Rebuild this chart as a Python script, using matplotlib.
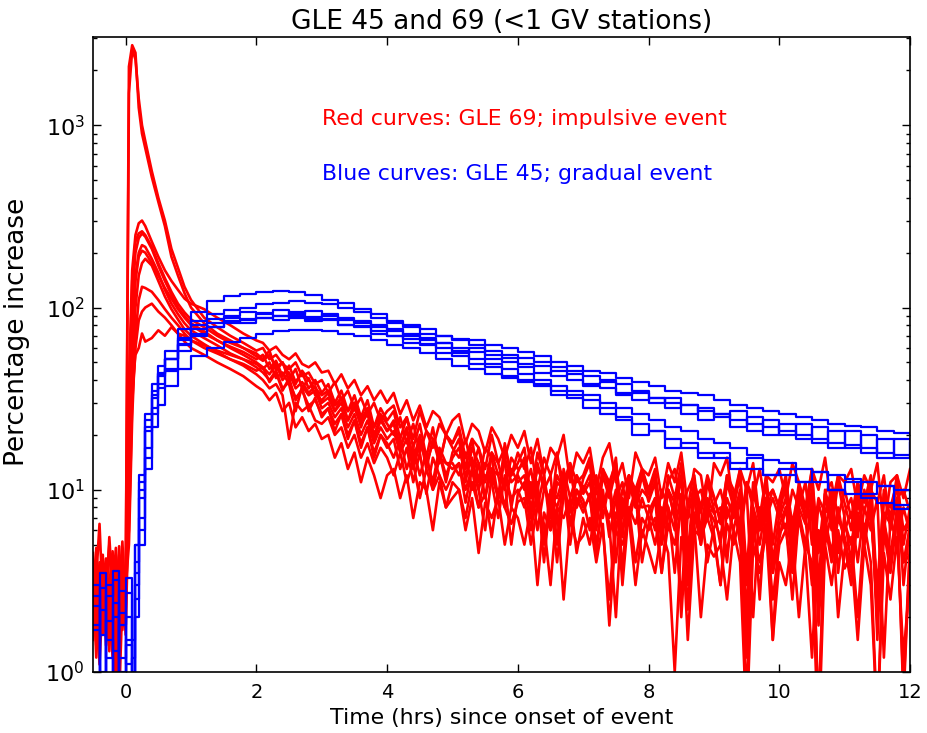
import matplotlib
matplotlib.use("Agg")
import matplotlib.pyplot as plt

# sample times (hours since onset)
t_red = [-0.5, -0.45, -0.4, -0.35, -0.3, -0.25, -0.2, -0.15, -0.1, -0.05, 0.0,
         0.05, 0.1, 0.15, 0.2, 0.25, 0.3,
         0.4, 0.5, 0.6, 0.7, 0.8, 0.9, 1.0,
         1.2, 1.4, 1.6, 1.8, 2.0,
         2.1, 2.2, 2.3, 2.4, 2.5, 2.6, 2.7, 2.8, 2.9, 3.0,
         3.1, 3.2, 3.3, 3.4, 3.5, 3.6, 3.7, 3.8, 3.9, 4.0,
         4.1, 4.2, 4.3, 4.4, 4.5, 4.6, 4.7, 4.8, 4.9, 5.0,
         5.1, 5.2, 5.3, 5.4, 5.5, 5.6, 5.7, 5.8, 5.9, 6.0,
         6.1, 6.2, 6.3, 6.4, 6.5, 6.6, 6.7, 6.8, 6.9, 7.0,
         7.1, 7.2, 7.3, 7.4, 7.5, 7.6, 7.7, 7.8, 7.9, 8.0,
         8.1, 8.2, 8.3, 8.4, 8.5, 8.6, 8.7, 8.8, 8.9, 9.0,
         9.1, 9.2, 9.3, 9.4, 9.5, 9.6, 9.7, 9.8, 9.9, 10.0,
         10.1, 10.2, 10.3, 10.4, 10.5, 10.6, 10.7, 10.8, 10.9, 11.0,
         11.1, 11.2, 11.3, 11.4, 11.5, 11.6, 11.7, 11.8, 11.9, 12.0]

t_blue = [-0.5, -0.4, -0.3, -0.2, -0.1, 0.0,
          0.1, 0.15, 0.2, 0.3, 0.4, 0.5, 0.6, 0.8,
          1.0, 1.25, 1.5, 1.75, 2.0, 2.25, 2.5, 2.75, 3.0, 3.25, 3.5, 3.75,
          4.0, 4.25, 4.5, 4.75, 5.0, 5.25, 5.5, 5.75, 6.0, 6.25, 6.5, 6.75,
          7.0, 7.25, 7.5, 7.75, 8.0, 8.25, 8.5, 8.75, 9.0, 9.25, 9.5, 9.75,
          10.0, 10.25, 10.5, 10.75, 11.0, 11.25, 11.5, 11.75, 12.0]

# GLE 69 (impulsive), percentage increase per station
gle69 = [
    [4.5, 2.8, 2.0, 3.6, 3.0, 5.0, 2.2, 2.4, 3.9, 3.5, 2.6,
     40, 160, 250, 290, 300, 280,
     230, 190, 160, 140, 125, 112, 105,
     98, 88, 80, 72, 66,
     64, 58, 61, 55, 52, 56, 49, 47, 50, 44,
     45, 38, 43, 36, 40, 33, 37, 31, 35, 30,
     34, 26, 31, 24, 29, 22, 27, 25, 20, 24,
     26, 18, 23, 21, 16, 22, 19, 15, 20, 17,
     21, 14, 19, 12, 17, 15, 20, 11, 16, 14,
     17, 10, 15, 18, 11, 14, 9, 16, 13, 12,
     15, 9, 14, 11, 16, 8, 13, 12, 7, 14,
     12, 15, 8, 13, 10, 14, 6.5, 12, 11, 13,
     9, 14, 11, 7, 13, 10, 15, 8, 12, 11,
     13, 8, 12, 10, 14, 6, 11, 12, 9, 13],
    [2.5, 3.8, 1.5, 4.2, 3.3, 2.0, 2.9, 3.6, 2.2, 4.0, 2.8,
     1500, 2600, 2300, 1400, 1000, 820,
     560, 400, 300, 210, 165, 130, 110,
     88, 78, 70, 64, 58,
     60, 52, 55, 49, 46, 50, 42, 44, 38, 40,
     34, 39, 31, 35, 28, 32, 26, 30, 24, 27,
     29, 22, 25, 19, 27, 21, 17, 23, 20, 18,
     22, 15, 19, 17, 13, 20, 14, 17, 12, 16,
     13, 17, 10, 15, 12, 16, 9, 14, 11, 12,
     15, 8, 13, 11, 14, 7, 12, 10, 13, 9.5,
     12, 7, 11, 13, 8, 10, 12, 5.5, 11, 9,
     7, 12, 10, 6, 11, 9, 13, 7.5, 10, 8,
     11, 6.5, 10, 8, 12, 4.5, 9.5, 11, 7, 10,
     7, 11, 5, 10, 8.5, 12, 6, 9, 10, 7.5],
    [3.2, 2.1, 4.0, 2.6, 1.8, 3.0, 4.6, 2.4, 1.6, 3.4, 3.0,
     2100, 2750, 2500, 1250, 900, 750,
     520, 380, 280, 190, 150, 120, 100,
     82, 72, 66, 60, 54,
     51, 55, 47, 50, 43, 38, 45, 40, 36, 33,
     35, 29, 32, 27, 30, 24, 28, 22, 26, 23,
     20, 25, 18, 23, 16, 21, 19, 14, 20, 17,
     15, 19, 13, 17, 11, 16, 14, 10, 15, 13,
     14, 9, 13, 11, 7.5, 12, 10, 13, 8, 10.5,
     9, 12, 7, 11, 6, 10, 12, 8, 10, 9,
     11, 6, 10, 8.5, 12, 4, 9, 10, 7, 8.3,
     10, 7, 9, 5, 11, 8, 2.5, 9, 10, 7.8,
     6, 10, 8, 11, 5, 9, 7.5, 10, 3.5, 7.5,
     9, 5.5, 10, 7, 3, 9, 8, 11, 6, 7],
    [2.2, 3.6, 2.8, 1.6, 4.2, 2.5, 1.2, 3.1, 2.7, 5.2, 2.0,
     25, 110, 200, 240, 255, 245,
     210, 170, 140, 118, 100, 90, 82,
     74, 66, 60, 55, 50,
     47, 43, 49, 40, 44, 36, 39, 34, 37, 30,
     32, 27, 30, 24, 28, 23, 26, 19, 24, 21,
     23, 17, 21, 15, 19, 14, 18, 16, 12, 15,
     17, 12, 15, 10, 14, 13, 9, 15, 11, 12,
     10, 13, 8, 12, 6, 11, 10, 7.5, 12, 9.5,
     11, 7, 10, 5.5, 9, 11, 6.5, 10, 8, 8.2,
     6, 10, 8, 3.5, 9, 7, 11, 6, 9, 7.4,
     8, 4, 9.5, 6.5, 10, 2, 8, 7, 9, 7,
     9, 5, 8, 6.5, 10, 1.8, 7.5, 8, 4.5, 6.6,
     5, 8.5, 6, 9, 2.5, 7.5, 6.5, 9, 4, 6.3],
    [2.0, 3.3, 6.5, 2.4, 3.0, 1.3, 3.8, 2.5, 4.4, 1.9, 2.7,
     10, 35, 55, 60, 72, 65,
     68, 75, 70, 78, 72, 70, 66,
     62, 58, 55, 52, 49,
     46, 50, 41, 44, 38, 27, 37, 33, 35, 28,
     30, 25, 28, 22, 26, 20, 24, 18, 22, 19,
     21, 16, 19, 13, 18, 15, 11, 17, 14, 14,
     12, 16, 10, 14, 9, 13, 12, 8, 13, 11,
     12, 8, 11, 5, 10, 9, 12, 6.5, 10, 8.8,
     6, 10, 8, 11, 4, 9, 7.5, 10, 5.5, 7.6,
     9, 6, 10, 7, 2.5, 8.5, 9, 5, 8, 6.8,
     5.5, 9, 7, 10, 3, 8, 6, 9, 1.5, 6.4,
     8, 5, 9, 7, 3, 8.5, 6, 9.5, 5, 6,
     7.5, 4, 8, 6, 9, 1.2, 7, 5, 8, 5.7],
    [3.8, 1.2, 2.9, 2.2, 3.4, 1.9, 2.6, 4.8, 1.5, 3.2, 2.3,
     15, 70, 150, 200, 220, 215,
     185, 155, 125, 105, 92, 82, 75,
     68, 62, 56, 52, 47,
     44, 40, 45, 36, 39, 32, 35, 29, 31, 26,
     28, 23, 26, 20, 24, 18, 22, 16, 20, 18,
     15, 19, 13, 17, 12, 16, 10, 15, 14, 13,
     14, 10, 13, 8, 12, 11, 7, 12, 9, 10,
     8, 11, 6, 10, 9, 4, 9.5, 8, 10, 8,
     9, 5, 8.5, 7, 10, 3, 8, 6.5, 9, 7,
     5, 8, 6, 9, 2, 7.5, 6.5, 8, 4, 6.2,
     7, 4.5, 8, 5.5, 1.2, 7, 6, 8.5, 3.5, 5.8,
     6.5, 2.5, 7.5, 5, 8, 0.6, 6.5, 4, 7, 5.5,
     3.5, 7, 5, 8, 2, 6.5, 4.5, 7.5, 0.8, 5.2],
    [1.5, 4.8, 2.0, 3.1, 1.4, 2.6, 3.5, 0.8, 2.9, 3.7, 1.8,
     8, 40, 100, 150, 175, 185,
     170, 140, 115, 98, 86, 76, 70,
     63, 57, 52, 48, 43,
     40, 36, 38, 33, 19, 30, 27, 29, 24, 23,
     25, 20, 22, 17, 20, 15, 18, 14, 17, 15,
     12, 16, 11, 14, 9, 13, 10, 12, 8, 11,
     10, 7, 11, 8, 9.5, 5.5, 10, 8, 6.5, 8.6,
     9, 5, 8, 6.5, 3, 8, 7, 9, 4.5, 7,
     5, 8, 6, 2.5, 7.5, 6, 8, 4, 7, 6,
     7, 3.5, 6.5, 5, 8, 1.5, 6, 5.5, 7, 5.4,
     3, 6.5, 5, 7, 0.7, 6, 4, 6.5, 2.5, 5,
     6, 3.5, 7, 4.5, 1.2, 6, 5, 7.5, 2, 4.7,
     5.5, 2, 6.5, 4, 0.5, 6, 3.5, 7, 4, 4.4],
    [3.0, 2.4, 1.1, 2.7, 3.9, 1.7, 2.2, 3.3, 0.7, 2.5, 3.6,
     6, 30, 60, 85, 95, 100,
     105, 95, 88, 80, 72, 65, 60,
     55, 50, 46, 42, 37,
     35, 31, 34, 27, 30, 22, 25, 21, 23, 19,
     20, 15, 18, 13, 16, 11, 15, 12, 9, 12,
     13, 9, 12, 7, 11, 10, 6, 11, 8, 9,
     10, 6, 9, 4.5, 8.5, 7, 9, 5, 8, 7,
     5, 8, 3, 7.5, 6, 8, 2.5, 7, 5, 5.6,
     7, 4, 6.5, 1.8, 6, 5, 7, 3, 6, 4.7,
     3.5, 6, 4.5, 1.0, 5.5, 4, 6.5, 2, 5, 4.3,
     5, 2.5, 6, 4, 0.5, 5, 3.5, 6, 1.5, 4,
     3, 5.5, 2, 5, 4, 0.4, 5, 3, 6, 3.7,
     4.5, 1.5, 5, 3, 0.5, 4.5, 2.5, 5.5, 1.2, 3.4],
    [2.7, 4.1, 1.9, 3.4, 2.3, 5.5, 2.8, 1.4, 3.1, 2.4, 3.9,
     12, 60, 140, 190, 205, 200,
     175, 150, 128, 112, 98, 88, 80,
     72, 66, 61, 57, 52,
     55, 46, 51, 42, 48, 39, 44, 36, 40, 34,
     38, 30, 35, 27, 33, 25, 31, 22, 28, 24,
     27, 19, 25, 17, 23, 15, 22, 14, 20, 18,
     21, 13, 19, 11, 17, 15, 9, 18, 12, 14,
     17, 9, 16, 12, 7, 15, 11, 14, 8, 11.5,
     14, 7, 13, 10, 15, 5.5, 12, 9, 13, 10,
     13, 6, 12, 9, 14, 4.5, 11, 8, 12, 9.2,
     6.5, 12, 9, 13, 3.5, 11, 7, 12, 5, 8.8,
     12, 5.5, 11, 8, 13, 3, 10, 7, 12, 8.4,
     6, 11, 8.5, 12, 2.5, 10, 7, 12, 5, 8],
    [1.6, 3.0, 2.5, 4.4, 1.9, 2.2, 3.6, 2.0, 4.9, 1.7, 2.9,
     5, 25, 70, 110, 130, 128,
     122, 110, 98, 88, 80, 72, 66,
     60, 56, 52, 49, 45,
     47, 39, 44, 35, 41, 31, 36, 27, 32, 25,
     28, 21, 26, 19, 24, 17, 22, 15, 20, 17,
     19, 13, 17, 11, 16, 9.5, 15, 12, 10, 12,
     14, 8.5, 13, 10, 6, 12, 9, 11, 5, 9.5,
     11, 6, 10, 4, 9.5, 8, 11, 5, 9, 7.5,
     9.5, 4.5, 9, 6.5, 2, 8.5, 7, 9.5, 4, 6.5,
     9, 3.5, 8, 6, 9.5, 2.2, 7.5, 5, 8.5, 5.8,
     3, 8, 6, 9, 1.5, 7.5, 5, 8.5, 3.5, 5.4,
     8, 4, 7, 5, 9, 0.5, 7, 4.5, 8, 5,
     3, 7.5, 5.5, 8.5, 2, 7, 4, 8, 0.7, 4.8],
    [3.5, 1.4, 2.6, 3.9, 2.1, 3.0, 1.8, 4.3, 2.6, 3.3, 1.6,
     30, 140, 230, 255, 262, 250,
     215, 175, 145, 122, 105, 94, 86,
     78, 70, 64, 60, 56,
     52, 58, 45, 50, 40, 46, 36, 41, 33, 31,
     34, 27, 32, 24, 30, 22, 28, 20, 25, 21,
     24, 17, 22, 14, 20, 13, 19, 16, 11, 16,
     19, 11, 17, 14, 9, 16, 12, 14, 8, 12.5,
     15, 7, 14, 10, 12, 5, 13, 9, 12, 10,
     12, 6, 12, 9, 13, 3.5, 11, 8, 12, 8.6,
     11, 5, 10, 7, 12, 3, 10, 7.5, 11, 7.8,
     5, 11, 8, 12, 2, 10, 6.5, 11, 4, 7.3,
     11, 4.5, 10, 7, 12, 2.5, 9.5, 6, 11, 7,
     4, 10, 7.5, 11, 1.5, 9.5, 6.5, 11, 3, 6.6],
]

# GLE 45 (gradual), percentage increase per station
gle45 = [
    [1.8, 3.5, 0.6, 2.4, 1.2, 2.0,
     0.8, 5, 12, 26, 38, 48, 58, 76,
     95, 108, 116, 118, 122, 123, 121, 117, 110, 106, 98, 92,
     84, 80, 76, 70, 67, 66, 62, 60, 57, 54, 50, 48,
     45, 44, 41, 39, 37, 35, 34, 33, 31, 29, 28, 27,
     26, 25, 24, 23, 22.5, 22, 21, 20.5, 20],
    [2.6, 0.7, 1.9, 3.2, 0.5, 1.4,
     1.0, 3.5, 9, 21, 32, 42, 52, 68,
     84, 92, 97, 100, 104, 106, 108, 106, 104, 100, 95, 88,
     82, 78, 72, 70, 66, 62, 58, 55, 53, 50, 47, 45,
     42, 40, 38, 35, 32, 30, 29, 27, 26, 24, 23, 22,
     21, 20, 19, 18, 17.5, 17, 16, 15.5, 15],
    [0.5, 2.2, 1.5, 0.9, 2.8, 1.1,
     1.2, 3, 7, 17, 28, 38, 46, 62,
     76, 82, 88, 86, 92, 90, 95, 89, 92, 85, 84, 78,
     76, 70, 68, 64, 60, 57, 55, 50, 49, 44, 45, 40,
     38, 39, 33, 34, 30, 32, 26, 28, 25, 27, 21, 24,
     20, 23, 18, 21, 17, 20, 15, 19, 16],
    [1.7, 0.4, 3.0, 1.3, 2.1, 0.6,
     0.7, 4, 10, 22, 33, 43, 52, 66,
     80, 86, 90, 95, 93, 97, 92, 96, 90, 88, 82, 80,
     74, 72, 66, 64, 58, 60, 52, 53, 47, 48, 42, 43,
     37, 36, 34, 31, 32, 28, 29, 24, 26, 22, 25, 20,
     23, 19, 22, 17, 21, 16, 19, 15, 18],
    [3.0, 1.6, 0.8, 2.0, 1.0, 2.7,
     1.5, 5, 11, 24, 35, 44, 52, 63,
     72, 78, 82, 85, 88, 90, 88, 86, 85, 80, 78, 74,
     70, 67, 63, 60, 56, 52, 49, 46, 43, 40, 37, 35,
     33, 30, 28, 26, 24, 22, 21, 19, 18, 17, 15.5, 14.5,
     14, 13, 12.5, 12, 11.5, 11, 10.5, 10, 10],
    [0.8, 2.9, 1.2, 0.5, 1.8, 3.3,
     0.9, 2.5, 6, 15, 26, 36, 45, 58,
     70, 78, 84, 82, 88, 85, 90, 84, 86, 80, 79, 72,
     70, 64, 62, 56, 54, 49, 47, 42, 40, 38, 33, 32,
     28, 26, 24, 20, 21, 17, 18, 15, 16, 13, 15, 12,
     13, 11, 12.5, 10, 11, 9.5, 10.5, 7.8, 10],
    [2.3, 1.0, 2.6, 3.6, 0.7, 1.5,
     0.6, 2, 5, 13, 22, 29, 37, 46,
     54, 60, 65, 68, 72, 74, 75, 75, 74, 72, 70, 66,
     62, 60, 56, 52, 48, 46, 43, 41, 39, 37, 35, 33,
     31, 28, 25, 23, 21, 19, 17, 16, 15, 14, 13, 12,
     12, 11, 11, 10, 9.5, 9, 8.5, 8.2, 8],
]

fig = plt.figure(figsize=(9.27, 7.33), dpi=100)
ax = fig.add_axes([0.1003, 0.0832, 0.8814, 0.8663])

for y in gle69:
    ax.plot(t_red, y, color='r', lw=1.9)
for y in gle45:
    ax.plot(t_blue, y, color='b', lw=1.6, drawstyle='steps-post')

ax.set_yscale('log')
ax.set_xlim(-0.5, 12)
ax.set_ylim(1, 3050)

ax.text(3, 1000, 'Red curves: GLE 69; impulsive event', color='r', fontsize=15.8)
ax.text(3, 500, 'Blue curves: GLE 45; gradual event', color='b', fontsize=15.8)

ax.set_title('GLE 45 and 69 (<1 GV stations)', fontsize=19)
ax.set_xlabel('Time (hrs) since onset of event', fontsize=15.8)
ax.set_ylabel('Percentage increase', fontsize=19)
ax.yaxis.set_label_coords(-0.077, 0.535)

ax.tick_params(which='both', direction='in', top=True, right=True)
ax.tick_params(axis='x', labelsize=14, pad=8)
ax.tick_params(axis='y', labelsize=16, pad=6)
ax.tick_params(which='major', length=5.5, width=1)
ax.tick_params(which='minor', length=3, width=1)
for s in ax.spines.values():
    s.set_linewidth(1.2)

fig.savefig('out.png', dpi=100)
